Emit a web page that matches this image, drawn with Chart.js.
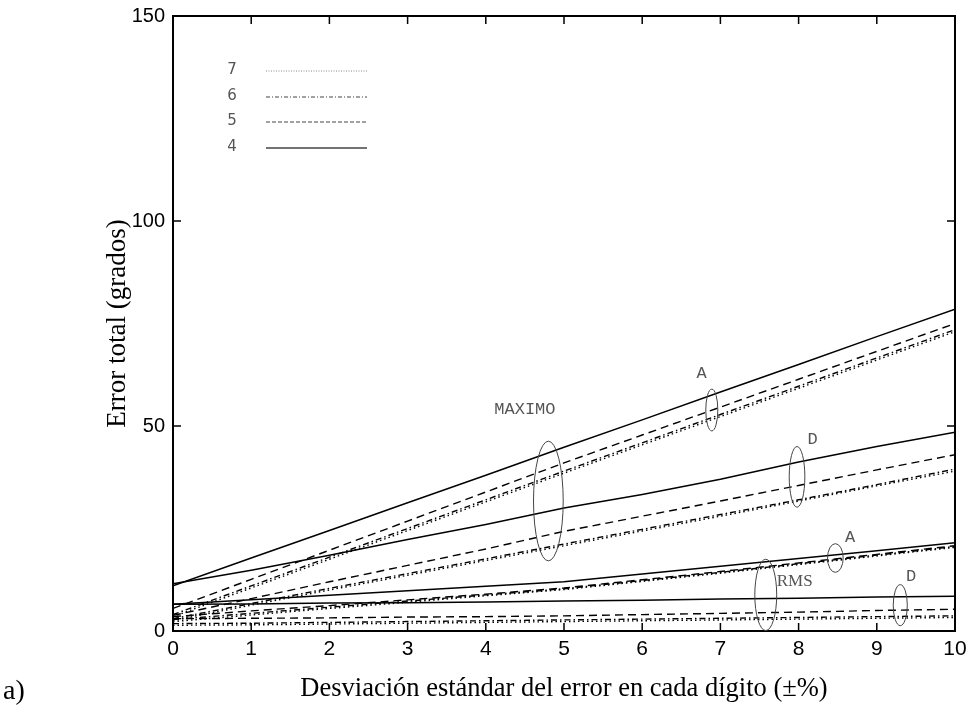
<!DOCTYPE html>
<html>
<head>
<meta charset="utf-8">
<script src="https://cdn.jsdelivr.net/npm/chart.js@4/dist/chart.umd.min.js"></script>
<style>
html,body{margin:0;padding:0;background:#fff;}
#wrap{width:972px;height:719px;}
</style>
</head>
<body>
<div id="wrap"><canvas id="c" width="972" height="719"></canvas></div>
<script>
// ---- data ----
const xs = [0,1,2,3,4,5,6,7,8,9,10];
// MAXIMO, A
const maxA4 = [11, 17.8, 24.5, 31.3, 38, 44.8, 51.5, 58.3, 65, 71.8, 78.5];
const maxA5 = [5.5, 12.6, 19.7, 26.8, 33.9, 41, 47.8, 54.6, 61.4, 68.2, 75];
const maxA6 = [4, 11, 18, 25, 32, 39, 45.9, 52.8, 59.7, 66.6, 73.5];
const maxA7 = [3.5, 10.5, 17.5, 24.5, 31.5, 38.5, 45.4, 52.3, 59.2, 66.1, 73];
// MAXIMO, D
const maxD4 = [11.5, 14.8, 18.5, 22.3, 26, 30, 33.3, 37, 41.2, 45, 48.5];
const maxD5 = [3.8, 7.9, 12, 16, 20, 24.3, 28, 31.7, 35.5, 39.3, 43];
const maxD6 = [3, 6.7, 10.4, 14, 17.6, 21.2, 24.8, 28.4, 32, 35.7, 39.5];
const maxD7 = [2.6, 6.3, 10, 13.6, 17.2, 20.8, 24.4, 28, 31.7, 35.4, 39];
// RMS, A
const rmsA4 = [6.5, 7.6, 8.7, 9.8, 10.9, 12, 13.9, 15.8, 17.7, 19.6, 21.5];
const rmsA5 = [3.5, 4.9, 6.2, 7.6, 9, 10.5, 12.5, 14.5, 16.6, 18.7, 20.8];
const rmsA6 = [2.8, 4.3, 5.8, 7.3, 8.8, 10.3, 12.3, 14.3, 16.4, 18.5, 20.6];
const rmsA7 = [2.3, 3.9, 5.5, 7, 8.6, 10.1, 12.1, 14.1, 16.2, 18.3, 20.4];
// RMS, D
const rmsD4 = [6.5, 6.6, 6.8, 6.9, 7.1, 7.3, 7.5, 7.8, 8, 8.3, 8.5];
const rmsD5 = [3, 3.1, 3.2, 3.4, 3.5, 3.7, 4, 4.3, 4.6, 5, 5.3];
const rmsD6 = [1.8, 1.9, 2.1, 2.3, 2.5, 2.7, 2.9, 3.1, 3.3, 3.5, 3.7];
const rmsD7 = [1.4, 1.5, 1.7, 1.9, 2.1, 2.3, 2.5, 2.7, 2.9, 3.1, 3.3];

const xTicks = [0,1,2,3,4,5,6,7,8,9,10];
const yTicks = [0,50,100,150];
const legendLabels = ['7','6','5','4'];
const xTitle = 'Desviación estándar del error en cada dígito (±%)';
const yTitle = 'Error total (grados)';

// annotations in data coordinates: [x, y, rx, ry]
const ellipseMaximo = [4.80, 31.7, 0.19, 14.6];
const ellipseMaxA = [6.89, 53.9, 0.077, 5.1];
const ellipseMaxD = [7.98, 37.6, 0.10, 7.4];
const ellipseRms = [7.58, 8.8, 0.14, 8.7];
const ellipseRmsA = [8.47, 17.8, 0.10, 3.5];
const ellipseRmsD = [9.30, 6.3, 0.09, 5.0];
const noteTexts = ['MAXIMO', 'A', 'D', 'RMS', 'A', 'D'];
const noteX = [4.5, 6.76, 8.18, 7.95, 8.66, 9.44];
const noteY = [54.1, 62.9, 46.6, 12.0, 22.9, 13.2];

// ---- styles ----
const DASH = {'4': [], '5': [8,5], '6': [6,3,1.5,3], '7': [1.5,3]};
function mk(arr, d){
  return {
    data: xs.map((x,i)=>({x:x, y:arr[i]})),
    borderColor: '#000',
    borderWidth: d==='4' ? 1.5 : 1.4,
    borderDash: DASH[d],
    pointRadius: 0,
    tension: 0,
    fill: false
  };
}
const datasets = [
  mk(maxA4,'4'), mk(maxA5,'5'), mk(maxA6,'6'), mk(maxA7,'7'),
  mk(maxD4,'4'), mk(maxD5,'5'), mk(maxD6,'6'), mk(maxD7,'7'),
  mk(rmsA4,'4'), mk(rmsA5,'5'), mk(rmsA6,'6'), mk(rmsA7,'7'),
  mk(rmsD4,'4'), mk(rmsD5,'5'), mk(rmsD6,'6'), mk(rmsD7,'7')
];

const deco = {
  id: 'deco',
  afterDraw(chart){
    const ctx = chart.ctx, ca = chart.chartArea;
    const sx = chart.scales.x, sy = chart.scales.y;
    ctx.save();
    // box
    ctx.strokeStyle = '#000';
    ctx.lineWidth = 2;
    ctx.setLineDash([]);
    ctx.strokeRect(ca.left, ca.top, ca.right - ca.left, ca.bottom - ca.top);
    // inward ticks
    ctx.lineWidth = 1.5;
    const tl = 8;
    ctx.beginPath();
    xTicks.forEach(v=>{
      const px = sx.getPixelForValue(v);
      ctx.moveTo(px, ca.bottom); ctx.lineTo(px, ca.bottom - tl);
      ctx.moveTo(px, ca.top); ctx.lineTo(px, ca.top + tl);
    });
    yTicks.forEach(v=>{
      const py = sy.getPixelForValue(v);
      ctx.moveTo(ca.left, py); ctx.lineTo(ca.left + tl, py);
      ctx.moveTo(ca.right, py); ctx.lineTo(ca.right - tl, py);
    });
    ctx.stroke();
    // ellipses
    ctx.strokeStyle = '#444';
    ctx.lineWidth = 1;
    [ellipseMaximo, ellipseMaxA, ellipseMaxD, ellipseRms, ellipseRmsA, ellipseRmsD].forEach(e=>{
      const cx = sx.getPixelForValue(e[0]), cy = sy.getPixelForValue(e[1]);
      const rx = Math.abs(sx.getPixelForValue(e[0]+e[2]) - cx);
      const ry = Math.abs(sy.getPixelForValue(e[1]+e[3]) - cy);
      ctx.beginPath();
      ctx.ellipse(cx, cy, rx, ry, 0, 0, Math.PI*2);
      ctx.stroke();
    });
    // notes
    ctx.fillStyle = '#555';
    ctx.textAlign = 'center';
    ctx.textBaseline = 'middle';
    noteTexts.forEach((t,i)=>{
      ctx.font = t === 'RMS' ? '17px "Liberation Serif"' : '17px "Liberation Mono"';
      ctx.fillText(t, sx.getPixelForValue(noteX[i]), sy.getPixelForValue(noteY[i]));
    });
    // legend
    const legY = [70, 96, 121, 147];
    const legStyles = ['7','6','5','4'];
    legendLabels.forEach((lab,i)=>{
      ctx.fillStyle = '#555';
      ctx.font = '15px "DejaVu Sans"';
      ctx.textAlign = 'center';
      ctx.fillText(lab, 232, legY[i]);
      ctx.beginPath();
      ctx.strokeStyle = legStyles[i]==='7' ? '#888' : '#444';
      ctx.lineWidth = legStyles[i]==='4' ? 1.4 : 1;
      ctx.setLineDash(legStyles[i]==='7' ? [1,1.5] : legStyles[i]==='6' ? [4,2,1,2] : legStyles[i]==='5' ? [4,2] : []);
      ctx.moveTo(266, legY[i]+1); ctx.lineTo(367, legY[i]+1);
      ctx.stroke();
    });
    ctx.setLineDash([]);
    // panel label
    ctx.fillStyle = '#000';
    ctx.font = '28px "Liberation Serif"';
    ctx.textAlign = 'left';
    ctx.fillText('a)', 3, 692);
    ctx.restore();
  }
};

new Chart(document.getElementById('c'), {
  type: 'line',
  data: { datasets: datasets },
  options: {
    responsive: false,
    animation: false,
    devicePixelRatio: 1,
    layout: { padding: { top: 16, right: 17, left: 0, bottom: 0 } },
    plugins: { legend: { display: false }, tooltip: { enabled: false } },
    scales: {
      x: {
        type: 'linear', min: 0, max: 10,
        afterBuildTicks: s => { s.ticks = xTicks.map(v=>({value:v})); },
        afterFit: s => { s.height = 88; s.paddingLeft = 0; s.paddingRight = 0; },
        grid: { display: false, drawTicks: false },
        border: { display: false },
        ticks: { color: '#000', padding: 6, maxRotation: 0, font: { family: '"Liberation Sans"', size: 21 } },
        title: { display: true, text: xTitle, color: '#000', font: { family: '"Liberation Serif"', size: 26.5 }, padding: { top: 0, bottom: 14 } }
      },
      y: {
        type: 'linear', min: 0, max: 150,
        afterBuildTicks: s => { s.ticks = yTicks.map(v=>({value:v})); },
        afterFit: s => { s.width = 173; s.paddingTop = 0; s.paddingBottom = 0; },
        grid: { display: false, drawTicks: false },
        border: { display: false },
        ticks: { color: '#000', padding: 8, font: { family: '"Liberation Sans"', size: 20 } },
        title: { display: true, text: yTitle, color: '#000', font: { family: '"Liberation Serif"', size: 27 }, padding: { top: 102, bottom: 0 } }
      }
    }
  },
  plugins: [deco]
});
</script>
</body>
</html>
